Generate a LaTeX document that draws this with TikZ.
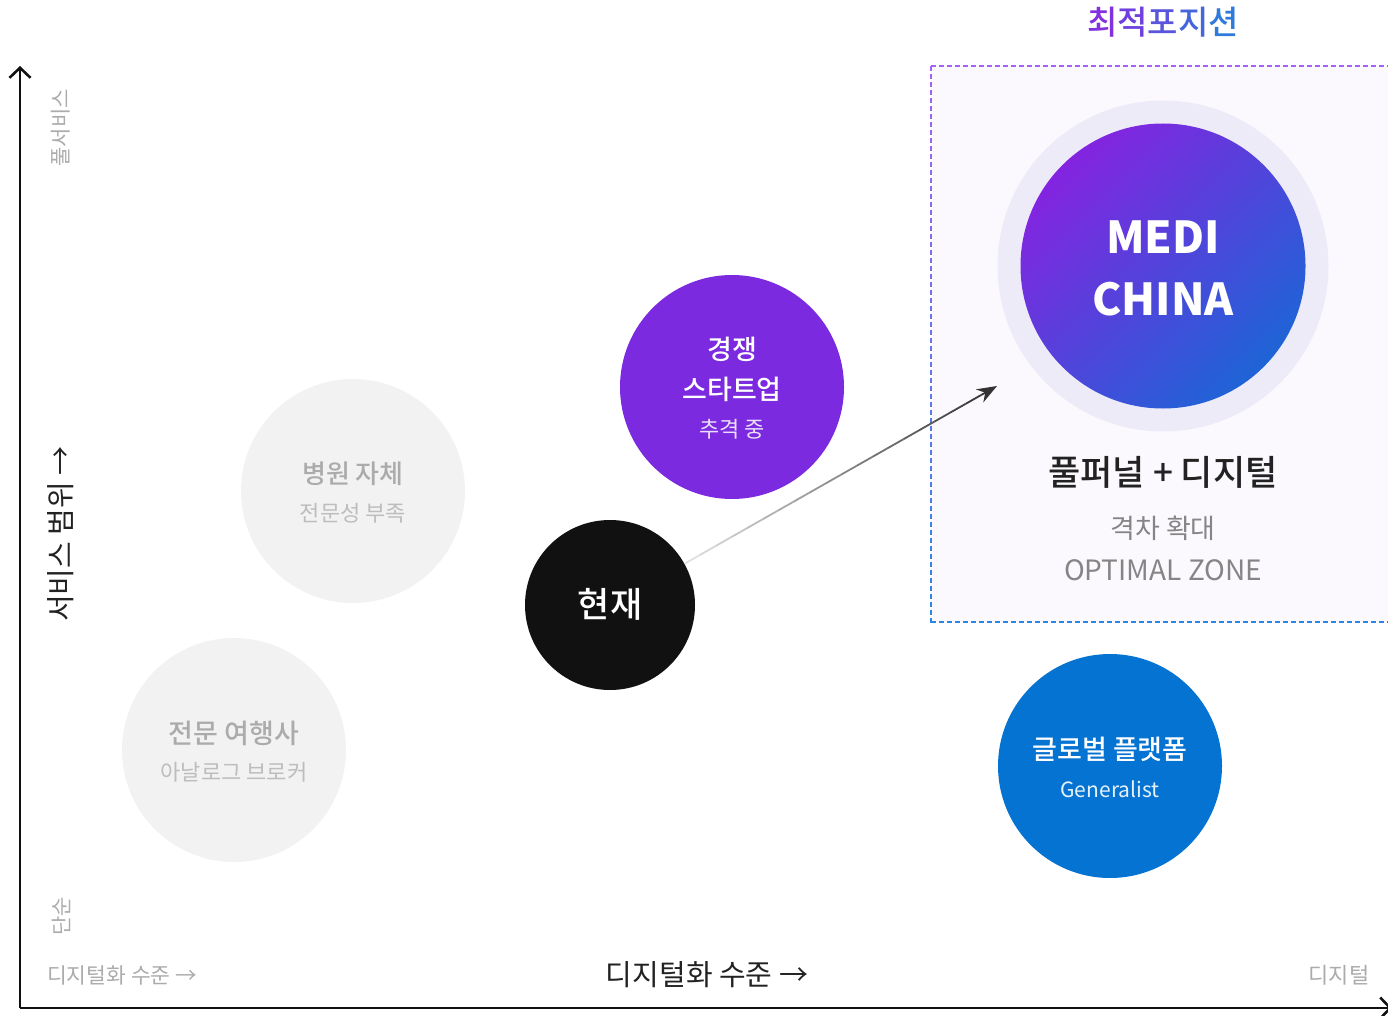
\documentclass[tikz,border=0pt]{standalone}
\usepackage{fontspec}
\setmainfont{Noto Sans CJK KR}
\newfontfamily\medium{Noto Sans CJK KR Medium}
\usetikzlibrary{arrows.meta,calc}
\definecolor{axisblack}{HTML}{111111}
\definecolor{textdark}{HTML}{222222}
\definecolor{softgray}{HTML}{F2F2F2}
\definecolor{mutegray}{HTML}{ABABAB}
\definecolor{paleblue}{HTML}{BDBDBD}
\definecolor{rivalpurple}{HTML}{7B2ADF}
\definecolor{platformblue}{HTML}{0573D2}
\definecolor{mediviolet}{HTML}{8424E0}
\definecolor{mediblue}{HTML}{1E64D6}
\definecolor{zonefill}{HTML}{FBF9FE}
\definecolor{halo}{HTML}{EEEBF9}
\definecolor{zonepurple}{HTML}{A463F0}
\definecolor{zoneblue}{HTML}{2C86E0}
\newcommand{\fs}[1]{\fontsize{#1}{#1}\selectfont}
\tikzset{bubble/.style={circle,inner sep=0pt,minimum size=224pt}}
\tikzset{lbl/.style={inner sep=0pt,anchor=center}}
\tikzset{axis/.style={draw=axisblack,line width=2.6pt,-{Straight Barb[length=10pt,width=21pt]}}}

\begin{document}
\begin{tikzpicture}[x=1pt,y=-1pt]
    \useasboundingbox (0,0) rectangle (1388,1016);
    % optimal zone
    \fill[zonefill] (931,66) rectangle (1395,622);
    \draw[zonepurple,line width=1.4pt,dash pattern=on 5pt off 3pt] (931,66) -- (1395,66);
    \draw[zoneblue,line width=1.4pt,dash pattern=on 5pt off 3pt] (931,622) -- (1395,622);
    \foreach \i in {0,...,69} {
      \pgfmathsetmacro{\mix}{100-\i*100/69}
      \draw[zonepurple!\mix!zoneblue,line width=1.4pt] (931,66+\i*8) -- (931,71+\i*8);
    }
    \node[lbl,font=\fs{33}\medium] (title) at (1163,22) {\textcolor[HTML]{8330DE}{최}\textcolor[HTML]{7040DE}{적}\textcolor[HTML]{5A55DC}{포}\textcolor[HTML]{4566DA}{지}\textcolor[HTML]{2F7ADA}{션}};
    \node[circle,minimum size=331pt,fill=halo] (ring) at (1163,266) {};
    \node[bubble,minimum size=285pt,top color=mediviolet,bottom color=mediblue,shading angle=45] (medi) at (1163,266) {};
    \node[lbl,white,font=\fs{44}\bfseries] (medi1) at (1163,237) {MEDI};
    \node[lbl,white,font=\fs{44}\bfseries] (medi2) at (1163,299) {CHINA};
    \node[lbl,textdark,font=\fs{35}\medium] (funnel) at (1163,472) {풀퍼널 + 디지털};
    \node[lbl,textdark!55,font=\fs{27}] (gap) at (1163,528) {격차 확대};
    \node[lbl,textdark!55,font=\fs{28}] (zone) at (1163,570) {OPTIMAL ZONE};
    % axes
    \coordinate (origin) at (20,1008);
    \draw[axis] (origin) -- (20,66);
    \draw[axis] (origin) -- (1392,1008);
    \node[lbl,rotate=90,mutegray,font=\fs{21}] (full) at (61,128) {풀서비스};
    \node[lbl,rotate=90,textdark,font=\fs{29}] (range) at (61,534) {서비스 범위 →};
    \node[lbl,rotate=90,mutegray,font=\fs{21}] (simple) at (61,916) {단순};
    \node[lbl,mutegray,font=\fs{21.5}] (lowdig) at (122,975) {디지털화 수준 →};
    \node[lbl,textdark,font=\fs{29}] (digital) at (707,975) {디지털화 수준 →};
    \node[lbl,mutegray,font=\fs{22}] (highdig) at (1339,975) {디지털};
    % players
    \node[bubble,fill=softgray] (hosp) at (353,491) {};
    \node[lbl,mutegray,font=\fs{26}\medium] (hosp1) at (353,474) {병원 자체};
    \node[lbl,paleblue,font=\fs{22}] (hosp2) at (353,513) {전문성 부족};
    \node[bubble,fill=softgray] (agency) at (234,750) {};
    \node[lbl,mutegray,font=\fs{27}\medium] (agency1) at (234,733) {전문 여행사};
    \node[lbl,paleblue,font=\fs{22}] (agency2) at (234,772) {아날로그 브로커};
    \node[bubble,fill=rivalpurple] (rival) at (732,387) {};
    \node[lbl,white,font=\fs{27}\medium] (rival1) at (732,349) {경쟁};
    \node[lbl,white,font=\fs{27}\medium] (rival2) at (732,389) {스타트업};
    \node[lbl,white!85!rivalpurple,font=\fs{22}] (rival3) at (732,429) {추격 중};
    \node[bubble,fill=platformblue] (global) at (1110,766) {};
    \node[lbl,white,font=\fs{27}\medium] (global1) at (1110,749) {글로벌 플랫폼};
    \node[lbl,white!90!platformblue,font=\fs{21}] (global2) at (1110,789) {Generalist};
    \node[bubble,minimum size=170pt,fill=axisblack] (now) at (610,605) {};
    \node[lbl,white,font=\fs{35}\medium] (now1) at (610,604) {현재};
    % move towards the zone
    \coordinate (target) at (997,386);
    \coordinate (launch) at (now.29.5);
    \foreach \i in {0,...,18} {
      \pgfmathsetmacro{\shade}{12+\i*3.6}
      \draw[black!\shade,line width=1.8pt] ($(launch)!\i/20!(target)$) -- ($(launch)!\i/20+1/20!(target)$);
    }
    \draw[black!80,line width=1.8pt,-{Stealth[length=20pt,width=15pt]}] ($(launch)!19/20!(target)$) -- (target);
  \end{tikzpicture}
\end{document}
